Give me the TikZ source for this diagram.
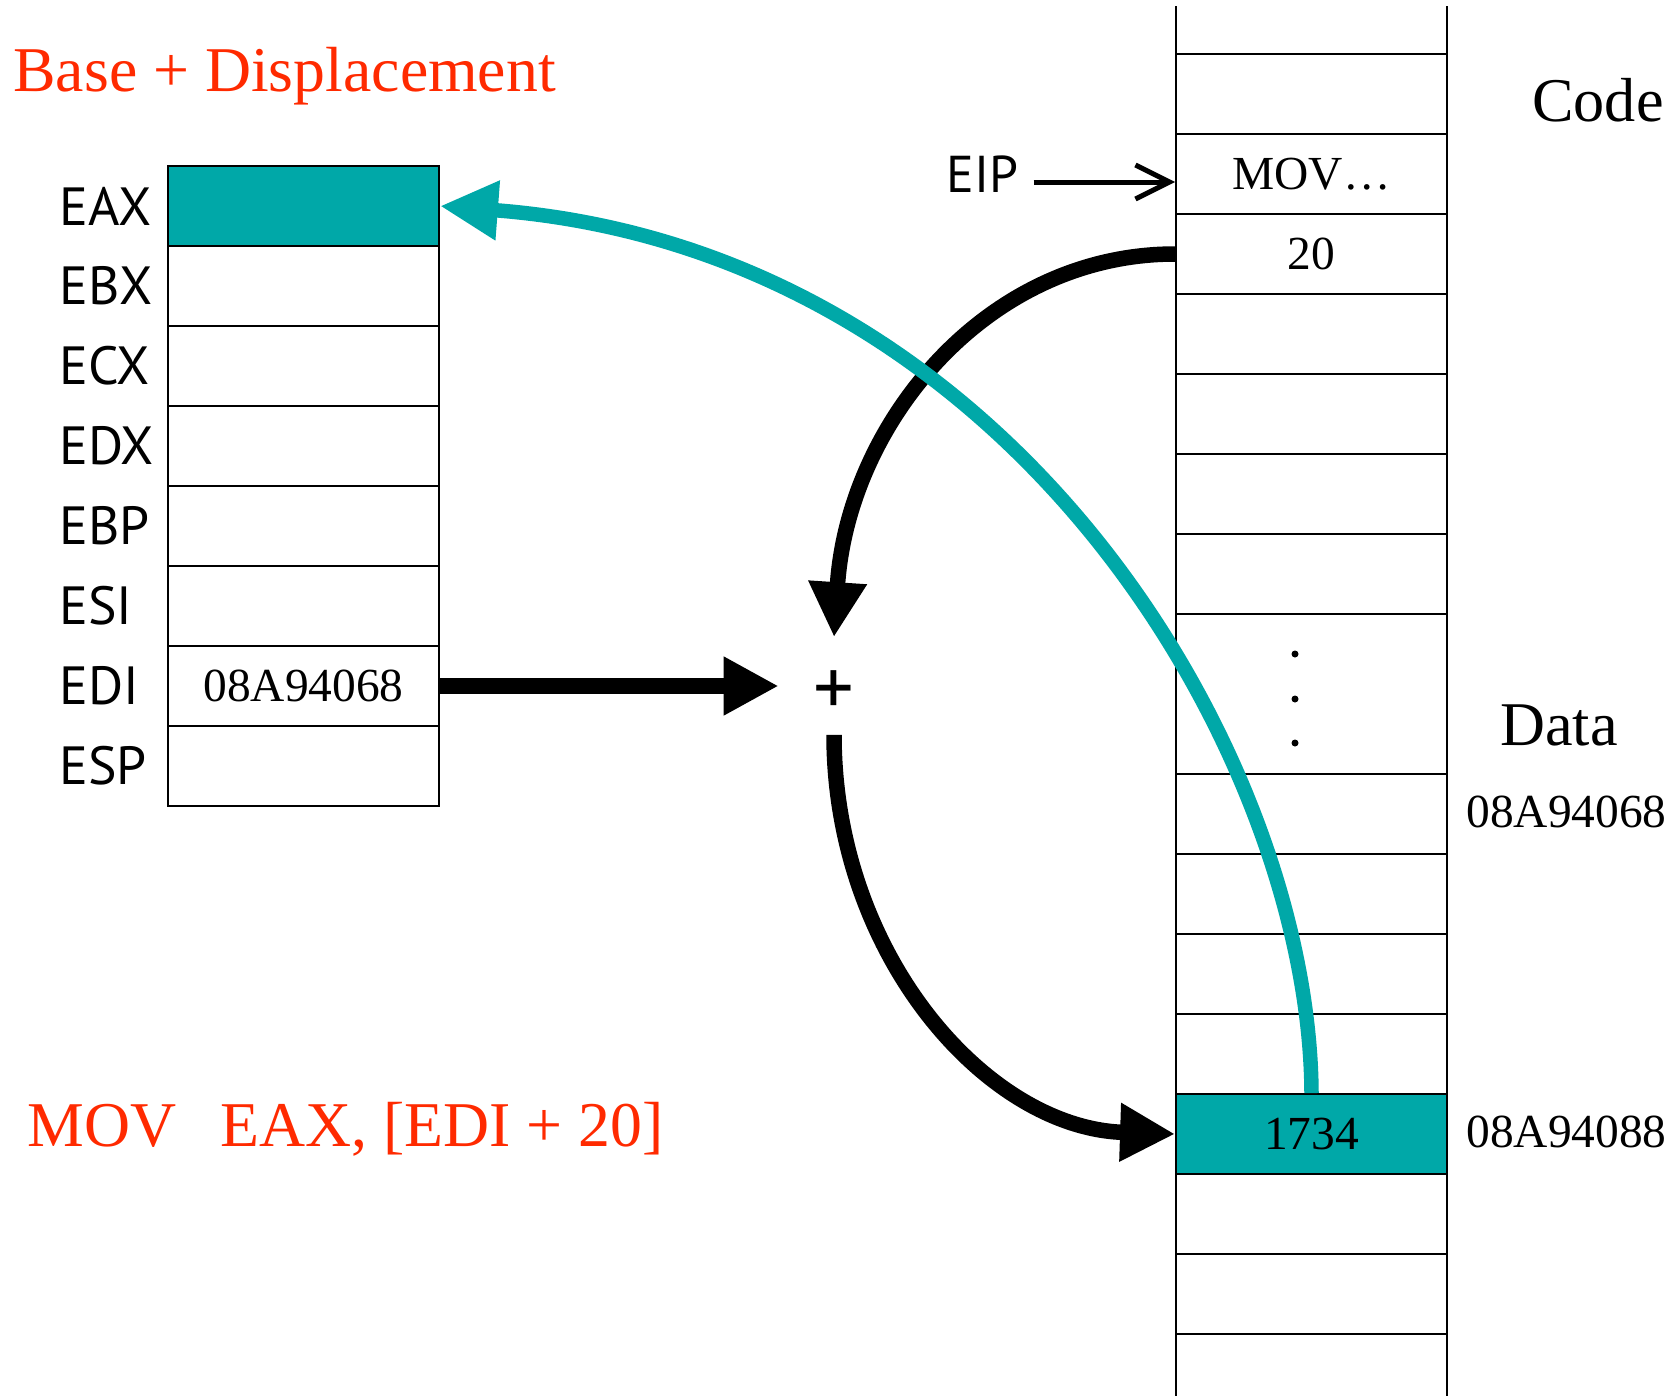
\documentclass[tikz,border=0pt]{standalone}
\usepackage{fontspec}
\setmainfont{Liberation Serif}
\newfontfamily\lblfont{PT Sans}
\usetikzlibrary{arrows.meta}
\definecolor{tealc}{RGB}{0,168,168}
\definecolor{redc}{RGB}{255,42,0}
\begin{document}
\begin{tikzpicture}[x=0.02cm,y=-0.02cm,
  cellbox/.style={draw=black, line width=1.1pt, minimum width=5.42cm, minimum height=1.6cm, inner sep=0pt,
    font=\fontsize{27}{29}\selectfont},
  hotcell/.style={cellbox, fill=tealc},
  reglabel/.style={anchor=west, inner sep=0pt, font=\lblfont\fontsize{30.6}{32}\selectfont},
  redtext/.style={anchor=base west, inner sep=0pt, text=redc, font=\fontsize{36.3}{40}\selectfont},
  bigtext/.style={anchor=base west, inner sep=0pt, font=\fontsize{35.4}{38}\selectfont},
  addrtext/.style={anchor=base west, inner sep=0pt, font=\fontsize{27}{29}\selectfont},
  blackarrow/.style={line width=0.31cm, -{Triangle[length=1.1cm,width=1.1cm]}},
  tealarrow/.style={draw=tealc, line width=0.29cm, -{Triangle[length=1.16cm,width=1.12cm,fill=tealc]}},
  eiparrow/.style={line width=0.1cm, -{Straight Barb[length=0.68cm,width=0.68cm]}}]
\useasboundingbox (0,0) rectangle (1680,1396);
\fill[white] (0,0) rectangle (1680,1396);

% memory column
\draw[line width=1.1pt] (1176,6) -- (1176,1396) (1447,6) -- (1447,1396);
\foreach \yy in {54,134,214,294,374,454,534,614,774,854,934,1014,1094,1174,1254,1334}
  \draw[line width=1.1pt] (1176,\yy) -- (1447,\yy);
\node[cellbox] (mMOV) at (1311.5,174) {MOV\ldots};
\node[cellbox] (m20) at (1311.5,254) {20};
\node[hotcell] (m1734) at (1311.5,1134) {1734};
\fill (1295,654) circle (3.5) (1295,699) circle (3.5) (1295,743) circle (3.5);

% registers
\node[hotcell] (rEAX) at (303.5,206) {};
\node[cellbox] (rEBX) at (303.5,286) {};
\node[cellbox] (rECX) at (303.5,366) {};
\node[cellbox] (rEDX) at (303.5,446) {};
\node[cellbox] (rEBP) at (303.5,526) {};
\node[cellbox] (rESI) at (303.5,606) {};
\node[cellbox] (rEDI) at (303.5,686) {08A94068};
\node[cellbox] (rESP) at (303.5,766) {};
\node[reglabel] (lEAX) at (59,206) {EAX};
\node[reglabel] (lEBX) at (59,286) {EBX};
\node[reglabel] (lECX) at (59,366) {ECX};
\node[reglabel] (lEDX) at (59,446) {EDX};
\node[reglabel] (lEBP) at (59,526) {EBP};
\node[reglabel] (lESI) at (59,606) {ESI};
\node[reglabel] (lEDI) at (59,686) {EDI};
\node[reglabel] (lESP) at (59,766) {ESP};

% texts
\node[redtext] (title) at (13,91) {Base + Displacement};
\node[redtext] (insmov) at (27,1146) {MOV};
\node[redtext] (insops) at (220,1146) {EAX, [EDI + 20]};
\node[bigtext] (code) at (1532,121) {Code};
\node[bigtext] (data) at (1500,745) {Data};
\node[addrtext] (a1) at (1466,827) {08A94068};
\node[addrtext] (a2) at (1466,1147) {08A94088};
\node[reglabel, font=\lblfont\fontsize{29.5}{31}\selectfont] (eip) at (946,174) {EIP};
\node[inner sep=0pt, minimum width=2.2cm, minimum height=1.94cm,
  label={[inner sep=0pt, yshift=-0.15cm, font=\lblfont\fontsize{46}{48}\selectfont]center:+}] (plus) at (834,686) {};

% connectors
\draw[eiparrow] ([xshift=0.3cm,yshift=-0.16cm]eip.east) -- ([yshift=-0.16cm]mMOV.west);
\draw[blackarrow] (rEDI.east) -- (plus.west);
\draw[blackarrow] (m20.west) .. controls +(-190,0) and +(14,-212) .. (plus.north);
\draw[blackarrow] (plus.south) .. controls +(0,220) and +(-188,-6) .. (m1734.west);
\draw[tealarrow] (m1734.north) .. controls +(-2,-335) and +(575,44) .. (rEAX.east);
\end{tikzpicture}
\end{document}
